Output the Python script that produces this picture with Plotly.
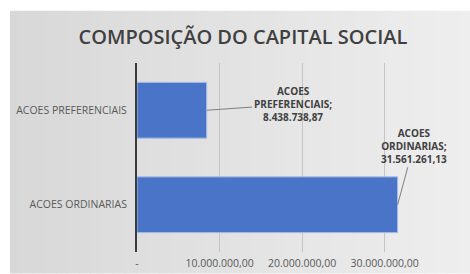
import plotly.graph_objects as go

categories = ["ACOES ORDINARIAS", "ACOES PREFERENCIAIS"]
values = [31561261.13, 8438738.87]
value_labels = ["31.561.261,13", "8.438.738,87"]
tick_vals = [0, 10000000, 20000000, 30000000]
tick_text = ["-", "10.000.000,00", "20.000.000,00", "30.000.000,00"]
title_text = "COMPOSIÇÃO DO CAPITAL SOCIAL"

W, H = 470, 274
PL, PR, PT, PB = 137, 426, 62.5, 252.5

def px_x(p):
    return (p - PL) / (PR - PL)

def px_y(p):
    return (PB - p) / (PB - PT)

fig = go.Figure()
fig.add_trace(go.Bar(
    y=categories, x=values, orientation="h",
    marker=dict(color="#4a74c8", line=dict(color="#a9bfe6", width=1)),
    width=0.59, hoverinfo="skip",
))

shapes = []
n = 40
x_left, x_right = 10, 470
for i in range(n):
    t = i / (n - 1)
    c0 = (216, 216, 216)
    c1 = (238, 238, 238)
    c = tuple(int(round(c0[k] + (c1[k] - c0[k]) * t)) for k in range(3))
    xa = x_left + (x_right - x_left) * i / n
    xb = x_left + (x_right - x_left) * (i + 1) / n + 0.5
    shapes.append(dict(type="rect", xref="paper", yref="paper",
                       x0=px_x(xa), x1=px_x(xb), y0=px_y(H), y1=px_y(10),
                       fillcolor="rgb(%d,%d,%d)" % c, line=dict(width=0), layer="below"))

fig.update_layout(
    width=W, height=H,
    margin=dict(l=PL, r=W - PR, t=PT, b=H - PB, autoexpand=False),
    paper_bgcolor="#ffffff", plot_bgcolor="rgba(0,0,0,0)",
    shapes=shapes,
    showlegend=False,
    bargap=0.41,
    title=dict(text=title_text, x=243 / W, xref="container", xanchor="center",
               y=1 - 37 / H, yref="container", yanchor="middle",
               font=dict(family="Open Sans", size=20, weight=600, color="#404040")),
    xaxis=dict(range=[0, 35000000], tickvals=tick_vals, ticktext=tick_text,
               showgrid=True, gridcolor="#c4c4c4", gridwidth=1,
               zeroline=False, showline=False, ticks="", ticklen=0,
               ticklabelstandoff=3,
               tickfont=dict(family="Open Sans", size=10.5, color="#595959")),
    yaxis=dict(showline=True, linecolor="#3d3d3d", linewidth=2, ticks="",
               showgrid=False, ticklabelstandoff=6,
               tickfont=dict(family="Open Sans", size=10.5, color="#595959")),
)

fig.add_annotation(x=values[1], y=categories[1], text="<b>ACOES<br>PREFERENCIAIS;<br>" + value_labels[1] + "</b>",
                   showarrow=True, arrowhead=0, arrowwidth=1, arrowcolor="#7f7f7f",
                   ax=86, ay=-6, xanchor="center", yanchor="middle",
                   font=dict(family="Open Sans", size=10, color="#404040"), align="center")
fig.add_annotation(x=values[0], y=categories[0], text="<b>ACOES<br>ORDINARIAS;<br>" + value_labels[0] + "</b>",
                   showarrow=True, arrowhead=0, arrowwidth=1, arrowcolor="#7f7f7f",
                   ax=16, ay=-59, xanchor="center", yanchor="middle",
                   font=dict(family="Open Sans", size=10, color="#404040"), align="center")

fig.write_html("out.html", config={"displayModeBar": False},
               post_script="document.body.style.margin='0';document.body.style.overflow='hidden';")
